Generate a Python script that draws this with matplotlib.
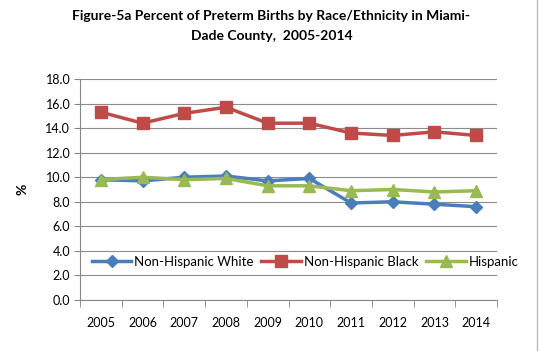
import matplotlib
matplotlib.use("Agg")
import matplotlib.pyplot as plt
from matplotlib.ticker import FixedLocator, NullFormatter

# data
years = ["2005", "2006", "2007", "2008", "2009", "2010", "2011", "2012", "2013", "2014"]
nh_white = [9.8, 9.7, 10.0, 10.1, 9.7, 9.9, 7.9, 8.0, 7.8, 7.6]
nh_black = [15.3, 14.4, 15.2, 15.7, 14.4, 14.4, 13.6, 13.4, 13.7, 13.4]
hispanic = [9.8, 10.0, 9.8, 9.9, 9.3, 9.3, 8.9, 9.0, 8.8, 8.9]
yticks = [0, 2, 4, 6, 8, 10, 12, 14, 16, 18]

plt.rcParams["font.family"] = ["Lato", "DejaVu Sans"]

fig = plt.figure(figsize=(5.43, 3.51), dpi=100)
ax = fig.add_axes([80 / 543, 1 - 300 / 351, 417 / 543, 221 / 351])

x = list(range(len(years)))
ax.plot(x, nh_white, color="#4a7ebb", lw=2.5, marker="D", ms=6, label="Non-Hispanic White", zorder=4)
ax.plot(x, nh_black, color="#be4b48", lw=2.5, marker="s", ms=8, label="Non-Hispanic Black", zorder=3)
ax.plot(x, hispanic, color="#98b954", lw=2.5, marker="^", ms=8, label="Hispanic", zorder=5)

ax.set_xlim(-0.5, len(years) - 0.5)
ax.set_ylim(0, 18)
ax.set_yticks(yticks)
ax.set_yticklabels([f"{v:.1f}" for v in yticks], fontsize=9)
ax.set_xticks(x)
ax.set_xticklabels(years, fontsize=9)
ax.tick_params(axis="x", length=0, pad=12)
ax.tick_params(axis="y", length=4, color="#868686", pad=3)
ax.xaxis.set_minor_locator(FixedLocator([i - 0.5 for i in range(len(years) + 1)]))
ax.xaxis.set_minor_formatter(NullFormatter())
ax.tick_params(axis="x", which="minor", length=5, color="#868686")
ax.grid(axis="y", color="#8c8c8c", lw=0.8)
ax.set_axisbelow(True)
for s in ["top", "right"]:
    ax.spines[s].set_visible(False)
ax.spines["left"].set_color("#868686")
ax.spines["bottom"].set_color("#868686")

ax.set_ylabel("%", fontsize=10, fontweight="bold", labelpad=12)

ax.legend(loc="center", bbox_to_anchor=(305 / 543, 1 - 262 / 351), bbox_transform=fig.transFigure,
          ncol=3, frameon=False, fontsize=9.5, handlelength=3, handletextpad=0.2, columnspacing=0.6)

fig.text(0.5, 1 - 26 / 351, "Figure-5a Percent of Preterm Births by Race/Ethnicity in Miami-\nDade County,  2005-2014",
         ha="center", va="center", fontsize=10, fontweight="bold", linespacing=1.9)

fig.add_artist(plt.Line2D([537 / 543, 537 / 543], [0, 1], color="#bbbbbb", lw=1))

fig.savefig("out.png", dpi=100)
